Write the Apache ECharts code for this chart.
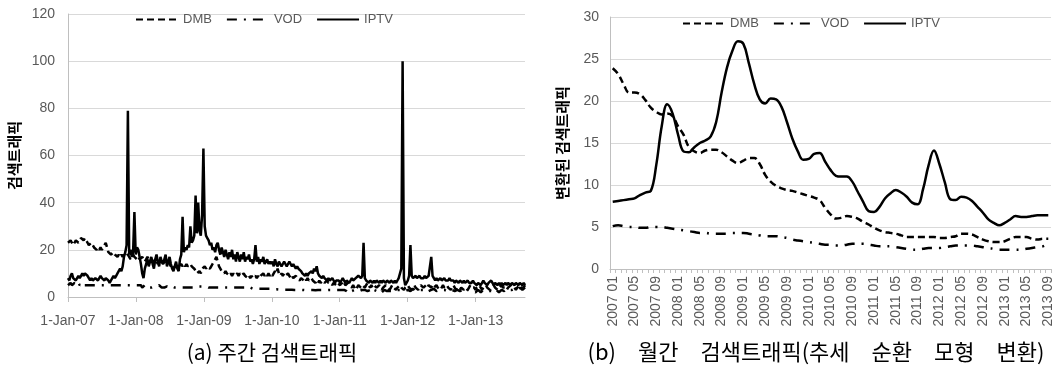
<!DOCTYPE html>
<html>
<head>
<meta charset="utf-8">
<script src="https://cdn.jsdelivr.net/npm/echarts@6/dist/echarts.min.js"></script>
<style>
    html, body { margin: 0; padding: 0; background: #fff; }
    #chart { width: 1059px; height: 370px; }
</style>
</head>
<body>
<div id="chart"></div>
<script>
(function () {
    'use strict';

    //주간 데이터: 2007-01-01 부터 1주 간격
    var weekStartYear = 2007;
    var yearTicks = [2007, 2008, 2009, 2010, 2011, 2012, 2013];

    var weeklyIptv = [
        8, 7, 9, 10, 8, 8, 7, 8, 9, 8, 9, 10, 9, 10, 10, 9, 8, 7, 8, 7, 7, 8, 8, 7, 8, 9, 8, 8, 7, 8, 8, 7, 6, 7, 8, 9, 8, 9, 10, 10, 12, 11, 13, 17, 19, 22, 79, 18, 20, 17, 19, 36, //2007
        18, 21, 20, 17, 14, 10, 8, 12, 14, 16, 13, 15, 17, 14, 12, 16, 18, 15, 13, 17, 15, 14, 16, 18, 13, 15, 17, 14, 12, 11, 13, 15, 12, 11, 16, 18, 34, 19, 21, 20, 22, 21, 30, 23, 24, 26, 43, 27, 40, 28, 26, 35, //2008
        63, 30, 26, 25, 24, 22, 23, 20, 21, 19, 22, 23, 20, 18, 21, 19, 17, 20, 18, 16, 19, 17, 20, 16, 18, 15, 19, 17, 15, 18, 16, 19, 15, 17, 16, 18, 15, 16, 14, 16, 22, 15, 17, 14, 16, 15, 17, 14, 15, 16, 14, 15, //2009
        14, 15, 13, 16, 14, 13, 15, 14, 13, 14, 15, 14, 13, 14, 15, 14, 13, 14, 13, 12, 13, 12, 12, 11, 10, 10, 9, 10, 9, 10, 10, 11, 10, 12, 11, 13, 10, 9, 9, 8, 9, 8, 8, 7, 8, 7, 7, 8, 7, 6, 7, 7, //2010
        7, 6, 7, 8, 7, 6, 7, 7, 6, 7, 8, 7, 7, 8, 8, 9, 9, 8, 9, 23, 8, 7, 7, 6, 7, 7, 6, 7, 6, 7, 7, 6, 7, 6, 7, 7, 6, 7, 7, 6, 7, 7, 6, 7, 6, 7, 8, 10, 12, 100, 8, 5, //2011
        6, 7, 9, 22, 9, 8, 8, 9, 8, 8, 9, 8, 8, 8, 9, 8, 8, 9, 9, 17, 9, 8, 7, 8, 7, 7, 8, 7, 7, 8, 7, 7, 7, 8, 7, 7, 7, 6, 7, 7, 6, 7, 7, 6, 7, 6, 6, 7, 6, 6, 6, 7, //2012
        6, 6, 5, 6, 6, 5, 6, 7, 6, 6, 5, 6, 6, 7, 6, 5, 6, 6, 5, 6, 5, 6, 5, 5, 6, 5, 6, 6, 5, 6, 6, 5, 6, 6, 5, 6, 6, 5, 6, 5 //2013
    ];
    var weeklyDmb = [
        23, 23, 24, 23, 22, 23, 24, 24, 23, 24, 25, 25, 24, 25, 24, 23, 22, 22, 23, 22, 21, 21, 20, 21, 20, 21, 20, 21, 22, 23, 21, 19, 19, 18, 18, 19, 18, 18, 17, 18, 17, 18, 17, 18, 17, 17, 18, 17, 16, 17, 18, 17,
        17, 16, 17, 16, 16, 17, 16, 15, 16, 17, 16, 15, 16, 16, 15, 16, 15, 14, 15, 14, 15, 14, 15, 14, 14, 15, 14, 13, 14, 12, 13, 12, 12, 13, 13, 14, 13, 14, 13, 14, 13, 13, 14, 13, 13, 12, 11, 10, 10, 11, 10, 12,
        12, 13, 12, 13, 13, 12, 13, 14, 15, 16, 17, 15, 13, 12, 11, 11, 10, 11, 10, 10, 9, 10, 9, 10, 9, 9, 10, 9, 10, 9, 9, 10, 9, 9, 8, 9, 8, 9, 8, 8, 9, 8, 9, 8, 9, 9, 10, 9, 10, 9, 10, 9,
        10, 9, 10, 11, 10, 12, 10, 9, 10, 9, 10, 9, 9, 10, 9, 8, 9, 8, 8, 9, 8, 8, 7, 8, 8, 7, 8, 7, 8, 7, 7, 8, 7, 7, 6, 7, 6, 7, 6, 6, 7, 6, 6, 7, 6, 6, 6, 5, 6, 6, 5, 6,
        6, 5, 6, 5, 6, 5, 5, 6, 5, 5, 4, 5, 4, 3, 4, 5, 5, 4, 5, 5, 4, 5, 6, 5, 4, 5, 4, 5, 5, 4, 4, 5, 4, 3, 4, 4, 5, 4, 4, 3, 4, 5, 4, 4, 3, 4, 4, 5, 4, 4, 3, 4,
        4, 5, 4, 4, 3, 4, 5, 4, 4, 3, 4, 5, 5, 4, 4, 5, 4, 5, 5, 4, 5, 4, 4, 5, 4, 4, 3, 4, 5, 4, 4, 5, 4, 4, 3, 4, 5, 4, 3, 4, 4, 3, 4, 4, 3, 4, 4, 3, 4, 5, 4, 4,
        4, 3, 4, 4, 5, 4, 3, 4, 4, 5, 4, 4, 3, 4, 4, 5, 4, 4, 3, 4, 4, 5, 4, 4, 4, 3, 4, 4, 5, 4, 4, 4, 3, 4, 4, 5, 4, 4, 4, 5
    ];
    var weeklyVod = [
        5, 5, 6, 5, 5, 6, 6, 5, 6, 5, 5, 6, 5, 5, 5, 5, 5, 4.5, 5, 5, 5, 5, 5, 5.5, 5, 5, 5, 5, 5, 5.5, 5, 5, 5, 5, 5, 5, 5, 5, 5, 5, 5, 5, 5, 5, 5, 5, 5, 5, 5, 5, 5, 5,
        5, 5, 5, 5, 5, 4, 4, 5, 4, 4, 4, 4.5, 4, 4, 4.5, 5, 4.5, 4.5, 5, 4.5, 4, 4.5, 4, 4.5, 4.5, 4.5, 4, 4, 4.5, 4.5, 4, 4, 4, 4, 4, 4.5, 4, 4, 4, 4, 4, 4, 4, 4, 4, 4.5, 4.5, 4, 4.5, 4, 4.5, 4.5,
        4.5, 4.5, 4.5, 4, 4, 4, 4, 4, 4, 4, 4, 4, 4, 4, 4, 4, 4, 4, 4, 4.5, 4, 4.5, 4, 4, 4, 4, 4, 4, 4, 4, 4, 4, 4, 4, 3.5, 4, 4, 3.5, 3.5, 3.5, 3.5, 3.5, 3.5, 3.5, 3.5, 3.5, 3.5, 3.5, 3.5, 3.5, 3.5, 3.5,
        3.5, 3.3, 3.2, 3.5, 3.3, 3.2, 3.2, 3.1, 3.2, 3.1, 3.1, 3.2, 3.1, 3.0, 3.1, 3.0, 3.1, 3.0, 3.0, 3.1, 3.0, 3.0, 3.1, 3.0, 3.0, 3.0, 2.9, 3.0, 3.0, 3.0, 3.0, 2.9, 3.0, 3.0, 2.9, 3.0, 3.0, 2.9, 3.0, 3.0, 3.0, 3.0, 2.9, 3.0, 3.0, 2.9, 3.0, 3.0, 3.0, 2.9, 3.0, 3.0,
        3, 3, 3, 3.5, 3, 3, 2.5, 2, 1.5, 2, 2.5, 3, 3, 3.5, 3, 3, 2.5, 3, 3, 3.5, 3, 3, 2.5, 3, 3, 2, 2.5, 3, 3, 2.5, 3, 3, 2.5, 2, 2.5, 3, 3, 2.5, 3, 2.5, 2, 2.5, 3, 3, 2.5, 3, 3.5, 3, 2.5, 3, 3, 2.5,
        2.5, 3, 3, 2.5, 3, 3.5, 3, 2.5, 3, 3, 3.5, 3, 2.5, 3, 3, 3.5, 3, 2.5, 2.5, 3, 3, 3.5, 3, 2.5, 3, 3, 2.5, 3, 3.5, 3, 2.5, 2.5, 3, 3, 2.5, 3, 3, 2.5, 2.5, 3, 3, 2.5, 2.5, 3, 2.5, 2, 2.5, 3, 2.5, 2.5, 3, 2.5,
        2.5, 2, 2.5, 3, 2.5, 2, 2.5, 3, 2.5, 2.5, 2, 2.5, 3, 2.5, 2.5, 2, 2.5, 3, 2.5, 2, 2.5, 3, 3, 2.5, 3, 3.5, 3, 3, 3.5, 3, 3, 3.5, 3, 3, 3.5, 4, 3.5, 3, 3.5, 4
    ];

    //월간 데이터: 2007 01 ~ 2013 09
    var monthlyIptv = [
        8.0, 8.1, 8.2, 8.3, 8.4, 8.8, 9.1, 9.3, 12.4, 17.0,
        19.6, 18.5, 16.0, 14.0, 13.9, 14.5, 15.0, 15.3, 15.8, 17.5,
        21.0, 24.0, 26.0, 27.1, 26.8, 24.5, 22.0, 20.2, 19.7, 20.3,
        20.2, 19.3, 17.5, 15.5, 14.0, 13.0, 13.1, 13.7, 13.8, 12.8,
        11.8, 11.1, 11.0, 11.0, 10.4, 9.2, 8.0, 6.9, 6.8, 7.4,
        8.4, 9.0, 9.4, 9.1, 8.6, 7.9, 7.7, 9.5, 12.3, 14.1,
        12.5, 10.3, 8.3, 8.2, 8.6, 8.5, 8.1, 7.4, 6.7, 5.9,
        5.5, 5.2, 5.5, 5.9, 6.3, 6.2, 6.2, 6.3, 6.4, 6.4,
        6.4
    ];
    var monthlyDmb = [
        23.9, 23.2, 22.0, 21.0, 21.0, 20.8, 20.1, 19.2, 18.7, 18.4,
        18.5, 18.2, 17.0, 16.0, 14.5, 14.0, 13.8, 14.1, 14.2, 14.2,
        13.9, 13.4, 12.9, 12.6, 12.9, 13.2, 13.2, 12.5, 11.2, 10.4,
        9.9, 9.6, 9.4, 9.3, 9.1, 8.9, 8.7, 8.5, 8.2, 7.3,
        6.5, 6.0, 6.1, 6.3, 6.2, 6.0, 5.6, 5.3, 4.9, 4.6,
        4.4, 4.3, 4.2, 4.0, 3.8, 3.8, 3.8, 3.8, 3.8, 3.8,
        3.7, 3.7, 3.8, 3.9, 4.2, 4.2, 4.1, 3.8, 3.5, 3.3,
        3.2, 3.2, 3.3, 3.6, 3.8, 3.8, 3.8, 3.6, 3.5, 3.6,
        3.6
    ];
    var monthlyVod = [
        5.1, 5.2, 5.1, 5.0, 5.0, 4.9, 4.9, 5.0, 5.0, 5.0,
        4.9, 4.8, 4.7, 4.6, 4.5, 4.4, 4.3, 4.3, 4.2, 4.2,
        4.2, 4.2, 4.3, 4.3, 4.3, 4.2, 4.1, 4.0, 3.9, 3.9,
        3.9, 3.8, 3.7, 3.5, 3.4, 3.3, 3.2, 3.1, 3.0, 2.9,
        2.9, 2.8, 2.8, 2.9, 3.0, 3.0, 3.0, 2.9, 2.8, 2.7,
        2.7, 2.7, 2.6, 2.5, 2.4, 2.3, 2.3, 2.4, 2.5, 2.5,
        2.5, 2.6, 2.7, 2.8, 2.8, 2.8, 2.8, 2.7, 2.6, 2.5,
        2.4, 2.3, 2.3, 2.3, 2.3, 2.3, 2.4, 2.5, 2.6, 2.7,
        3.0
    ];

    var legendNames = ['DMB', 'VOD', 'IPTV'];
    var captionA = '(a) 주간 검색트래픽';
    //원본 캡션은 단어 간격이 넓음 (em space 사용)
    var captionB = '(b)\u2003월간\u2003검색트래픽(추세\u2003순환\u2003모형\u2003변환)';

    //월 라벨 "2007 01" 형식
    var monthLabels = [];
    for (var m = 0; m < monthlyIptv.length; m++) {
        var yy = 2007 + Math.floor(m / 12);
        var mm = m % 12 + 1;
        monthLabels.push(yy + ' ' + (mm < 10 ? '0' + mm : mm));
    }

    //주 번호 -> 연도(소수)
    function toWeekPairs(list) {
        var res = [];
        for (var i = 0; i < list.length; i++) {
            res.push([weekStartYear + i * 7 / 365.25, list[i]]);
        }
        return res;
    }
    var weekEnd = weekStartYear + (weeklyIptv.length - 1) * 7 / 365.25;

    var latin = '"Liberation Sans", Arial, sans-serif';
    var korean = '"Noto Sans CJK KR", sans-serif';
    var labelColor = '#595959';
    var gridColor = '#d9d9d9';
    var axisColor = '#bfbfbf';

    var dmbDash = [7, 4];
    var vodDash = [10, 7, 2, 7];

    function lineSeries(name, data, dash, xi, smooth) {
        return {
            name: name,
            type: 'line',
            xAxisIndex: xi,
            yAxisIndex: xi,
            data: data,
            symbol: 'none',
            showSymbol: false,
            smooth: smooth,
            animation: false,
            lineStyle: { color: '#000', width: 2.5, type: dash || 'solid' },
            itemStyle: { color: '#000' }
        };
    }

    var legendBase = {
        data: legendNames,
        orient: 'horizontal',
        itemWidth: 42,
        itemHeight: 12,
        itemGap: 14,
        padding: 0,
        itemStyle: { opacity: 0 }, //범례에 원형 심볼 숨김
        textStyle: { fontSize: 13, color: labelColor, fontFamily: latin }
    };

    var option = {
        backgroundColor: '#fff',
        animation: false,
        legend: [
            Object.assign({}, legendBase, { left: 135, top: 13 }),
            Object.assign({}, legendBase, { left: 682, top: 17 })
        ],
        grid: [
            { left: 68, top: 14, width: 457, height: 283, containLabel: false, outerBoundsMode: 'none' },
            { left: 610, top: 17, width: 441, height: 252, containLabel: false, outerBoundsMode: 'none' }
        ],
        xAxis: [
            {
                type: 'value',
                gridIndex: 0,
                min: weekStartYear,
                max: weekEnd,
                interval: 1,
                splitLine: { show: false },
                axisLine: { show: true, lineStyle: { color: axisColor, width: 1 } },
                axisTick: { show: true, length: 5, customValues: yearTicks, lineStyle: { color: axisColor } },
                axisLabel: {
                    customValues: yearTicks,
                    margin: 17,
                    fontSize: 14,
                    color: labelColor,
                    fontFamily: latin,
                    formatter: function (v) {
                        return '1-Jan-' + String(Math.round(v)).slice(2);
                    }
                }
            },
            {
                type: 'category',
                gridIndex: 1,
                data: monthLabels,
                boundaryGap: true,
                axisLine: { show: true, lineStyle: { color: axisColor, width: 1 } },
                axisTick: { show: true, interval: 0, length: 4, lineStyle: { color: axisColor } },
                axisLabel: {
                    interval: 3,
                    rotate: 90,
                    margin: 7,
                    fontSize: 14,
                    color: labelColor,
                    fontFamily: latin
                }
            }
        ],
        yAxis: [
            {
                type: 'value',
                gridIndex: 0,
                min: 0,
                max: 120,
                interval: 20,
                name: '검색트래픽',
                nameLocation: 'middle',
                nameGap: 46,
                nameTextStyle: { fontSize: 15, fontWeight: 'bold', color: '#000', fontFamily: korean },
                axisLine: { show: true, lineStyle: { color: axisColor } },
                axisTick: { show: false },
                splitLine: { lineStyle: { color: gridColor, width: 1 } },
                axisLabel: { margin: 13, fontSize: 14, color: labelColor, fontFamily: latin }
            },
            {
                type: 'value',
                gridIndex: 1,
                min: 0,
                max: 30,
                interval: 5,
                name: '변환된 검색트래픽',
                nameLocation: 'middle',
                nameGap: 40,
                nameTextStyle: { fontSize: 15, fontWeight: 'bold', color: '#000', fontFamily: korean },
                axisLine: { show: true, lineStyle: { color: axisColor } },
                axisTick: { show: false },
                splitLine: { lineStyle: { color: gridColor, width: 1 } },
                axisLabel: { margin: 11, fontSize: 14, color: labelColor, fontFamily: latin }
            }
        ],
        series: [
            lineSeries('DMB', toWeekPairs(weeklyDmb), dmbDash, 0, false),
            lineSeries('VOD', toWeekPairs(weeklyVod), vodDash, 0, false),
            lineSeries('IPTV', toWeekPairs(weeklyIptv), null, 0, false),
            lineSeries('DMB', monthlyDmb, dmbDash, 1, 0.4),
            lineSeries('VOD', monthlyVod, vodDash, 1, 0.4),
            lineSeries('IPTV', monthlyIptv, null, 1, 0.4)
        ],
        graphic: [
            {
                type: 'text',
                x: 272,
                y: 352,
                style: { text: captionA, fontSize: 21, fontFamily: korean, fill: '#000', textAlign: 'center', textVerticalAlign: 'middle' }
            },
            {
                type: 'text',
                x: 816,
                y: 352,
                style: { text: captionB, fontSize: 22, fontFamily: korean, fill: '#000', textAlign: 'center', textVerticalAlign: 'middle' }
            }
        ]
    };

    var myChart = echarts.init(document.getElementById('chart'), null, { renderer: 'canvas' });
    myChart.setOption(option);
})();
</script>
</body>
</html>
